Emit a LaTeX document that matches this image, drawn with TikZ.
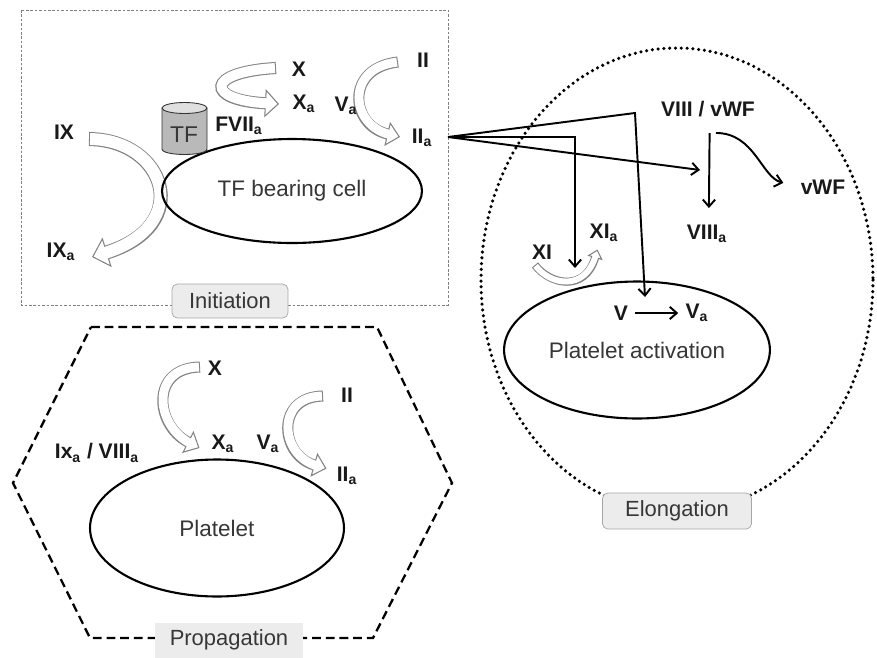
\documentclass[tikz,border=0pt]{standalone}
\usepackage{fontspec}
\setmainfont{Liberation Sans}
\usetikzlibrary{shapes.geometric}
\usetikzlibrary{arrows.meta}
\usepackage{xcolor}
\definecolor{arrowgray}{RGB}{130,130,130}
\definecolor{textgray}{RGB}{55,55,55}
\definecolor{boxgray}{RGB}{236,236,236}

\begin{document}
\begin{tikzpicture}[x=0.02cm, y=-0.02cm]
        % ================= 样式定义 =================
        \tikzset{
            % 因子标签 (粗体)
            factor/.style={font=\fontsize{12}{14}\selectfont\bfseries, text=black!90, inner sep=1pt},
            % 细胞 (椭圆)
            cell/.style={ellipse, draw=black, line width=1.2pt, font=\fontsize{12.8}{15}\selectfont, text=textgray},
            % 阶段标签框
            phase/.style={rectangle, rounded corners=3pt, draw=gray!70, fill=boxgray, font=\fontsize{12.5}{15}\selectfont, text=textgray, inner sep=0pt},
            % 普通反应箭头
            react_edge/.style={line width=1.1pt, -{Straight Barb[length=4pt, width=7pt]}},
            % 空心弯箭头 (#1 = 箭身宽度, #2 = 箭头长度, #3 = 箭头宽度)
            hollow_arrow/.style n args={3}{draw=arrowgray, line width=#1+1.2pt,
                -{Triangle[length=#2, width=#3, line width=0.6pt, fill=white]},
                postaction={draw=white, line width=#1, -, shorten <=0.6pt, shorten >=#2-1.5pt}}
        }
        \useasboundingbox (0,0) rectangle (877,657);

        % ================= 边框 =================
        \draw[gray, line width=0.5pt, dash pattern=on 1.5pt off 1pt] (21,10) rectangle (448,305);
        \draw[line width=2pt, dash pattern=on 0pt off 3.3pt, line cap=round] (677,280) ellipse [x radius=196, y radius=232];
        \draw[line width=1.3pt, dash pattern=on 5pt off 2.8pt] (91,327) -- (377,327) -- (452,483) -- (373,638) -- (90,638) -- (13,483) -- cycle;

        % ================= 空心弯箭头 =================
        \draw[hollow_arrow={6.8pt}{9pt}{17.5pt}] (89,139) .. controls (165,140) and (195,225) .. (92,257);
        \draw[hollow_arrow={5.7pt}{8pt}{16pt}] (276,68) .. controls (205,72) and (205,100) .. (279,104);
        \draw[hollow_arrow={5.1pt}{7.5pt}{14pt}] (398,62) .. controls (345,68) and (350,125) .. (400,137);
        \draw[hollow_arrow={3.4pt}{5pt}{9pt}] (535,265) .. controls (550,285) and (585,292) .. (597.5,249.5);
        \draw[hollow_arrow={5.1pt}{7.5pt}{14pt}] (200,367) .. controls (150,368) and (155,425) .. (199.5,448);
        \draw[hollow_arrow={5.1pt}{7.5pt}{14pt}] (323,396) .. controls (275,397) and (280,455) .. (326.5,468.5);

        % ================= 细胞 =================
        \node[cell, minimum width=5.2cm, minimum height=2.08cm] (tfcell) at (292,191) {TF bearing cell};
        \node[cell, minimum width=5.08cm, minimum height=2.74cm] (plt) at (217,528) {Platelet};
        \node[cell, minimum width=5.1cm, minimum height=2.74cm] (pltact) at (637,350) {Platelet activation};

        % TF 圆柱
        \fill[gray!55] (162,108) -- (162,149) .. controls (162,156.3) and (207,156.3) .. (207,149) -- (207,108) -- cycle;
        \draw[gray!40!black, line width=0.5pt] (162,108) -- (162,149) .. controls (162,156.3) and (207,156.3) .. (207,149) -- (207,108);
        \filldraw[fill=gray!25, draw=gray!40!black, line width=0.5pt] (184.5,108) ellipse [x radius=22.5, y radius=5.5];
        \node[font=\fontsize{13}{15}\selectfont, text=textgray] (tf) at (184,135) {TF};

        % ================= Initiation =================
        \node[factor] (ix) at (64,132) {IX};
        \node[factor] (ixa) at (61,252) {IX\textsubscript{a}};
        \node[factor] (x1) at (299,69) {X};
        \node[factor] (xa1) at (304,104) {X\textsubscript{a}};
        \node[factor] (va1) at (346,106) {V\textsubscript{a}};
        \node[factor] (ii1) at (423,60) {II};
        \node[factor] (iia1) at (422,138) {II\textsubscript{a}};
        \node[factor] (fvii) at (239,126) {FVII\textsubscript{a}};

        % ================= Elongation =================
        \node[factor] (viii) at (708,109) {VIII / vWF};
        \node[factor] (viiia) at (707,234) {VIII\textsubscript{a}};
        \node[factor] (vwf) at (823,187) {vWF};
        \node[factor] (xi) at (542,252) {XI};
        \node[factor] (xia) at (604,233) {XI\textsubscript{a}};
        \node[factor] (v2) at (621,313) {V};
        \node[factor] (va2) at (697,313) {V\textsubscript{a}};

        % 凝血酶 (IIa) 的作用
        \coordinate (thr) at (448,137);
        \coordinate (to_v) at (645,297);
        \coordinate (to_xi) at (575,268);
        \coordinate (to_viii) at (700,170);
        \draw[react_edge] (thr) -- (635,113) -- (to_v);
        \draw[react_edge] (thr) -- (575,137) -- (to_xi);
        \draw[react_edge] (thr) -- (to_viii);

        \draw[react_edge, shorten <=8pt, shorten >=8.5pt] ([xshift=1pt]viii.south) -- ([xshift=1pt]viiia.north);
        \draw[react_edge, shorten >=9pt] ([shift={(8,14)}]viii.south) to[out=0, in=165] (vwf.west);
        \draw[react_edge, shorten <=3pt, shorten >=3pt] (v2) -- (va2);

        % ================= Propagation =================
        \node[factor] (x3) at (215,368) {X};
        \node[factor] (xa3) at (223,444) {X\textsubscript{a}};
        \node[factor] (va3) at (268,444) {V\textsubscript{a}};
        \node[factor] (ii3) at (347,395) {II};
        \node[factor] (iia3) at (347,476) {II\textsubscript{a}};
        \node[factor] (ixviii) at (97,453) {Ix\textsubscript{a} / VIII\textsubscript{a}};

        % ================= 阶段标签 =================
        \node[phase, minimum width=2.32cm, minimum height=0.68cm] (init) at (230,301) {Initiation};
        \node[phase, minimum width=2.98cm, minimum height=0.72cm] (elong) at (677,511) {Elongation};
        \node[phase, draw=none, rounded corners=0pt, minimum width=2.96cm, minimum height=0.7cm] (prop) at (229,640) {Propagation};

\end{tikzpicture}
\end{document}
